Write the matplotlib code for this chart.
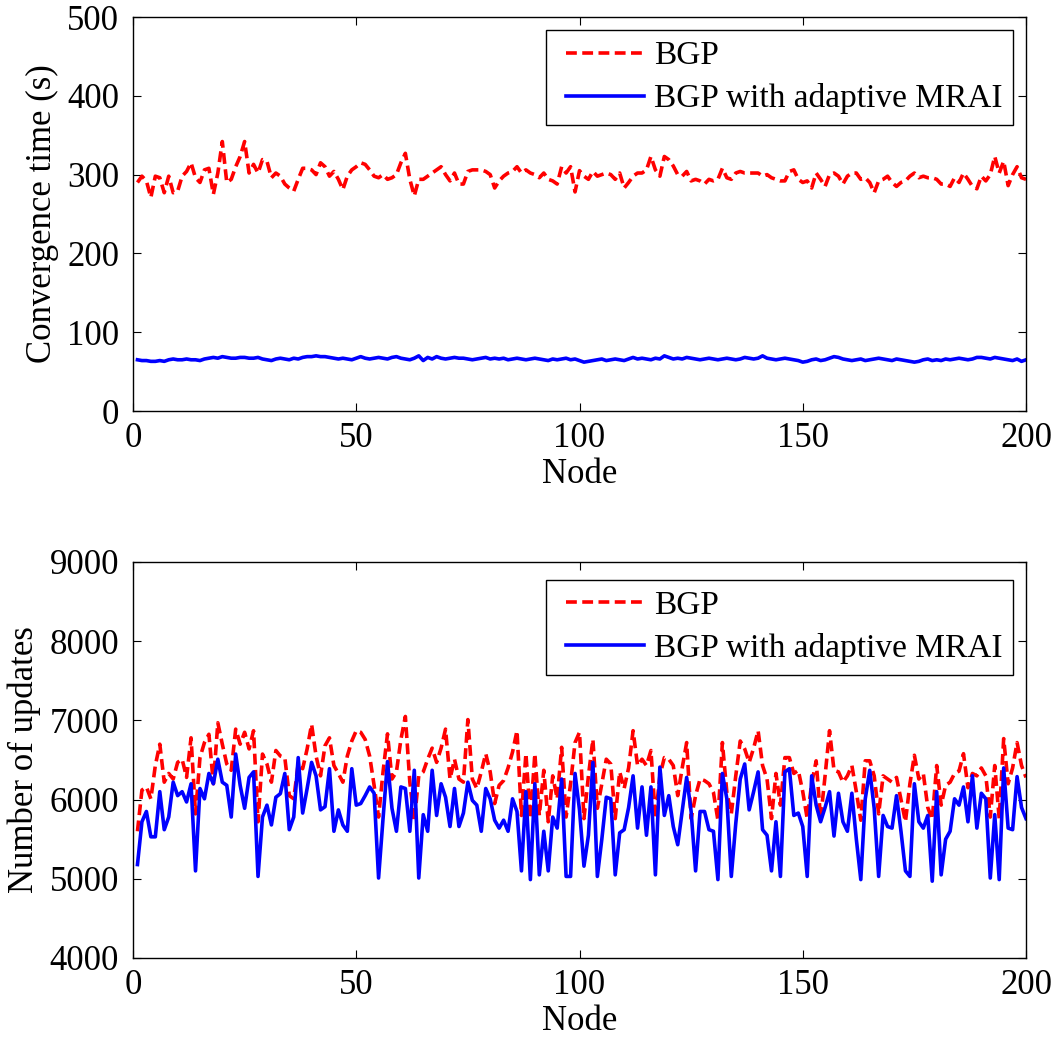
import numpy as np
import matplotlib
matplotlib.use("Agg")
import matplotlib.pyplot as plt
from matplotlib.lines import Line2D
from matplotlib.legend_handler import HandlerLine2D

plt.rcParams['font.family'] = ['Liberation Serif', 'DejaVu Serif']

# ---- data ----
conv_bgp = [290, 298, 292, 271, 298, 296, 277, 298, 277, 279, 298, 304, 315, 296, 290, 306, 308, 275, 302, 342,
            290, 294, 310, 323, 342, 302, 313, 302, 319, 317, 296, 302, 298, 288, 283, 279, 294, 308, 308, 306,
            300, 315, 310, 298, 304, 294, 281, 298, 306, 310, 315, 313, 306, 298, 296, 300, 294, 296, 300, 315,
            327, 294, 273, 294, 294, 298, 302, 306, 310, 300, 292, 302, 288, 288, 304, 306, 306, 306, 304, 300,
            283, 292, 298, 302, 304, 310, 302, 306, 302, 300, 296, 302, 294, 292, 288, 310, 302, 310, 278, 305,
            298, 294, 304, 298, 300, 302, 300, 294, 302, 283, 290, 298, 302, 302, 306, 323, 306, 298, 323, 319,
            311, 300, 298, 304, 292, 294, 292, 288, 294, 292, 294, 308, 296, 294, 302, 304, 302, 302, 302, 302,
            298, 300, 296, 294, 292, 292, 304, 306, 294, 290, 292, 283, 302, 294, 285, 300, 302, 298, 288, 298,
            302, 302, 294, 296, 290, 277, 292, 294, 298, 290, 285, 290, 292, 298, 302, 296, 298, 296, 296, 294,
            288, 288, 285, 296, 290, 302, 294, 285, 282, 298, 292, 300, 323, 302, 317, 286, 300, 310, 296, 294]

conv_adaptive = [65, 64, 64, 63, 63, 64, 63, 65, 66, 65, 65, 66, 65, 65, 64, 66, 67, 68, 67, 69,
                 68, 67, 67, 68, 68, 67, 67, 68, 66, 65, 64, 66, 67, 66, 65, 67, 66, 68, 69, 69,
                 70, 69, 69, 68, 67, 66, 67, 66, 65, 67, 69, 67, 66, 67, 68, 67, 66, 68, 69, 67,
                 66, 65, 67, 70, 64, 68, 66, 69, 67, 66, 67, 68, 67, 67, 66, 65, 66, 67, 68, 66,
                 67, 66, 67, 65, 66, 67, 66, 65, 66, 67, 66, 65, 64, 66, 65, 66, 67, 65, 66, 64,
                 62, 63, 64, 65, 66, 64, 65, 66, 65, 64, 66, 68, 66, 67, 66, 65, 67, 66, 70, 68,
                 66, 67, 66, 68, 67, 66, 65, 66, 67, 66, 65, 66, 67, 66, 65, 66, 68, 67, 66, 67,
                 70, 67, 66, 65, 66, 67, 66, 65, 64, 62, 63, 65, 66, 64, 65, 67, 69, 68, 66, 65,
                 64, 65, 66, 64, 65, 66, 67, 66, 65, 64, 66, 65, 64, 63, 62, 63, 65, 66, 64, 65,
                 64, 66, 65, 66, 67, 66, 65, 66, 68, 68, 67, 66, 68, 67, 66, 65, 64, 66, 63, 65]

upd_bgp = [5600, 6120, 6160, 6010, 6430, 6700, 6220, 6330, 6260, 6470, 6510, 6280, 6780, 5820, 6530, 6720, 6825, 6200, 6970, 6700,
           6450, 6370, 6890, 6700, 6850, 6640, 6870, 5720, 6575, 6450, 6220, 6620, 6550, 6530, 6050, 6010, 6450, 6390, 6640, 6950,
           6550, 6300, 6680, 6780, 6430, 6330, 6220, 6550, 6740, 6870, 6850, 6760, 6550, 6180, 5780, 6350, 6830, 6260, 6350, 6760,
           7050, 6220, 5720, 6300, 6350, 6510, 6650, 6470, 6650, 6890, 6260, 6510, 6260, 6220, 7010, 6260, 6140, 6350, 6580, 6350,
           5950, 6180, 6240, 6400, 6600, 6870, 5800, 6580, 5760, 6580, 5800, 6370, 5720, 6300, 6010, 6660, 5780, 6200, 6720, 6850,
           5760, 6300, 6760, 5890, 6200, 6510, 6450, 5760, 6350, 6140, 6400, 6870, 6430, 6510, 6430, 6620, 5760, 6300, 6530, 6510,
           6430, 6050, 6400, 6720, 5760, 6050, 6260, 6240, 6200, 6090, 5740, 6720, 6090, 5820, 6300, 6740, 6640, 6470, 6650, 6870,
           6430, 6260, 5760, 6330, 5930, 6530, 6530, 6330, 6370, 6100, 5760, 6200, 6490, 5760, 6300, 6870, 6370, 6350, 6220, 6300,
           6430, 6100, 5740, 6490, 6490, 6300, 5820, 6300, 6260, 6220, 6280, 6000, 5720, 6200, 6560, 6260, 6330, 5900, 5750, 6430,
           5930, 6180, 6220, 6330, 6360, 6580, 6150, 6330, 6300, 6400, 6300, 5780, 6430, 5760, 6770, 6200, 6400, 6720, 6430, 6280]

upd_adaptive = [5180, 5720, 5850, 5530, 5530, 6100, 5620, 5780, 6220, 6050, 6100, 5970, 6200, 5100, 6140, 6010, 6330, 6200, 6510, 6220,
                6180, 5780, 6575, 6180, 5890, 6280, 6350, 5030, 5780, 5930, 5680, 6030, 6075, 6330, 5620, 5780, 6530, 5830, 6140, 6470,
                6300, 5870, 5910, 6390, 5600, 5870, 5680, 5600, 6390, 5930, 5950, 6050, 6160, 6080, 5010, 5760, 6480, 5890, 5600, 6160,
                6140, 5600, 6370, 5010, 5810, 5600, 6370, 5800, 6200, 6030, 5660, 6140, 5660, 5830, 6220, 5990, 5930, 5600, 6140, 6010,
                5740, 5640, 5740, 5600, 6010, 5850, 5100, 6100, 4990, 6200, 5050, 5600, 5100, 5780, 5640, 6260, 5030, 5030, 6330, 5870,
                5160, 5550, 6470, 5030, 5500, 6030, 6010, 5050, 5580, 5620, 5900, 6300, 5640, 6160, 5550, 6160, 5050, 6410, 5800, 6050,
                5660, 5430, 5850, 6280, 5850, 5100, 5850, 5850, 5620, 5600, 4990, 6330, 6010, 5030, 5700, 6260, 6450, 5870, 6100, 6350,
                5620, 5550, 5100, 5720, 5030, 6350, 6390, 5800, 5830, 5660, 5030, 6300, 5930, 5720, 5900, 6100, 5540, 6080, 5720, 5600,
                6080, 5500, 4990, 6010, 6370, 5890, 5030, 5800, 5660, 5640, 6050, 5600, 5100, 5030, 6200, 5720, 5640, 5800, 4970, 6100,
                5050, 5500, 5600, 6010, 5930, 6160, 5720, 6300, 5640, 6080, 6010, 5010, 5810, 4990, 6400, 5640, 5620, 6290, 5900, 5760]

labels = ["BGP", "BGP with adaptive MRAI"]
xticks = [0, 50, 100, 150, 200]
top_yticks = [0, 100, 200, 300, 400, 500]
bot_yticks = [4000, 5000, 6000, 7000, 8000, 9000]

FS = 25
LFS = 24
LW = 2.6


class ShiftedLine(HandlerLine2D):
    """Legend line that leaves a small blank at its left (MATLAB-like padding)."""
    def __init__(self, shift, **kw):
        super().__init__(**kw)
        self.shift = shift

    def get_xdata(self, legend, xdescent, ydescent, width, height, fontsize):
        xd, xm = super().get_xdata(legend, xdescent, ydescent, width, height, fontsize)
        xd = np.asarray(xd, dtype=float).copy()
        xd[0] += self.shift
        return xd, xm


fig = plt.figure(figsize=(10.6, 10.4), dpi=100)
ax1 = fig.add_axes([133 / 1060, (1040 - 411) / 1040, 893 / 1060, 394 / 1040])
ax2 = fig.add_axes([133 / 1060, (1040 - 958) / 1040, 893 / 1060, 396 / 1040])


def style(ax, yt, ylabel, anchor_y):
    ax.set_xlim(0, 200)
    ax.set_ylim(yt[0], yt[-1])
    ax.set_xticks(xticks)
    ax.set_yticks(yt)
    ax.tick_params(direction='in', length=6, width=0.8, top=True, right=True,
                   labelsize=FS, pad=8)
    ax.tick_params(axis='y', pad=10)
    for s in ax.spines.values():
        s.set_linewidth(1.0)
    ax.set_xlabel("Node", fontsize=FS, labelpad=2)
    ax.set_ylabel(ylabel, fontsize=FS, labelpad=6)
    leg = ax.legend(loc='upper right', bbox_to_anchor=(0.9855, anchor_y), borderaxespad=0,
                    fontsize=LFS, frameon=True, fancybox=False, framealpha=1,
                    edgecolor='black', handlelength=2.61, handletextpad=0.3,
                    borderpad=0.32, labelspacing=0.36,
                    handler_map={Line2D: ShiftedLine(6.5)})
    leg.get_frame().set_linewidth(1.0)


dash = (0, (3.0, 1.5))
ax1.plot(np.arange(1, len(conv_bgp) + 1), conv_bgp, color='#ff0000', lw=LW, ls=dash, label=labels[0])
ax1.plot(np.arange(1, len(conv_adaptive) + 1), conv_adaptive, color='#0000ff', lw=LW, label=labels[1])
style(ax1, top_yticks, "Convergence time (s)", 0.967)

ax2.plot(np.arange(1, len(upd_bgp) + 1), upd_bgp, color='#ff0000', lw=LW, ls=dash, label=labels[0])
ax2.plot(np.arange(1, len(upd_adaptive) + 1), upd_adaptive, color='#0000ff', lw=LW, label=labels[1])
style(ax2, bot_yticks, "Number of updates", 0.955)

fig.savefig("out.png", dpi=100)
